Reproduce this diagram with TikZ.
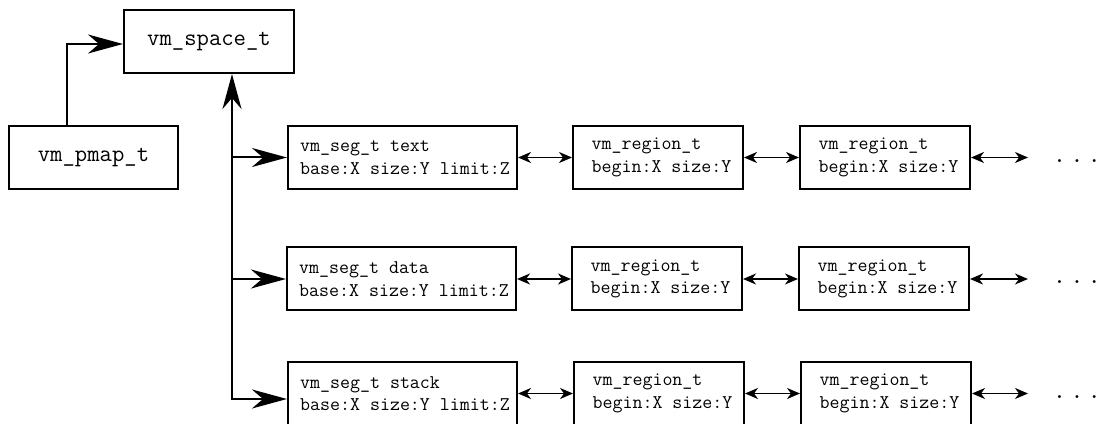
\documentclass[tikz,border=0pt]{standalone}
\usepackage{fontspec}
\usetikzlibrary{arrows.meta}
\newcommand{\ind}[1]{\hspace*{#1pt}}
\begin{document}
\begin{tikzpicture}[x=1pt,y=1pt,
  bigbox/.style={draw,line width=2pt,minimum width=170pt,minimum height=63pt,inner sep=0pt,font=\ttfamily\fontsize{24}{28}\selectfont},
  segbox/.style={draw,line width=2pt,minimum width=229pt,minimum height=63pt,inner sep=0pt,align=left,font=\ttfamily\fontsize{19.4}{22.5}\selectfont},
  regbox/.style={draw,line width=2pt,minimum width=170pt,minimum height=63pt,inner sep=0pt,align=left,font=\ttfamily\fontsize{19.4}{22.5}\selectfont},
  bigarrow/.style={line width=2pt,-{Stealth[length=35pt,width=19pt,inset=11pt]}},
  dblarrow/.style={line width=1.5pt,{Stealth[length=13pt,width=11pt,inset=4pt]}-{Stealth[length=13pt,width=11pt,inset=4pt]}},
  dots/.style={font=\ttfamily\fontsize{26}{28}\selectfont,inner sep=0pt}]
\useasboundingbox (0,0) rectangle (1100,423);
\node[bigbox] (space) at (209,381.5) {vm\_space\_t};
\node[bigbox,minimum width=169pt] (pmap) at (93.5,265.5) {vm\_pmap\_t};

\node[segbox] (seg1) at (402.5,265.5) {\ind{5}vm\_seg\_t text\\\ind{5}base:X size:Y limit:Z};
\node[segbox] (seg2) at (401.5,144) {\ind{5}vm\_seg\_t data\\\ind{5}base:X size:Y limit:Z};
\node[segbox] (seg3) at (402.5,29.5) {\ind{5}vm\_seg\_t stack\\\ind{5}base:X size:Y limit:Z};

\node[regbox] (r11) at (658,265.5) {\ind{7}vm\_region\_t\\\ind{7}begin:X size:Y};
\node[regbox] (r21) at (657,144) {\ind{7}vm\_region\_t\\\ind{7}begin:X size:Y};
\node[regbox] (r31) at (659,29.5) {\ind{7}vm\_region\_t\\\ind{7}begin:X size:Y};
\node[regbox] (r12) at (885,265.5) {\ind{7}vm\_region\_t\\\ind{7}begin:X size:Y};
\node[regbox] (r22) at (884,144) {\ind{7}vm\_region\_t\\\ind{7}begin:X size:Y};
\node[regbox] (r32) at (886,29.5) {\ind{7}vm\_region\_t\\\ind{7}begin:X size:Y};

\coordinate (e1) at (1028,265.5);
\coordinate (e2) at (1028,144);
\coordinate (e3) at (1028,29.5);
\node[dots,anchor=base] (d1) at (1077,260) {.\hspace{4pt}.\hspace{4pt}.};
\node[dots,anchor=base] (d2) at (1077,139) {.\hspace{4pt}.\hspace{4pt}.};
\node[dots,anchor=base] (d3) at (1077,25) {.\hspace{4pt}.\hspace{4pt}.};

% pmap -> space
\draw[bigarrow] (pmap.north -| 67,0) |- ([yshift=-2.5pt]space.west);
% spine
\coordinate (sp3) at (232,24);
\coordinate (sp2) at (232,144);
\coordinate (sp1) at (232,265.5);
\draw[bigarrow] (sp3) -- (sp3 |- space.south);
\draw[bigarrow] (sp1) -- (seg1.west);
\draw[bigarrow] (sp2) -- (seg2.west);
\draw[bigarrow] ([xshift=-1pt]sp3) -- (sp3 -| seg3.west);

% double arrows
\draw[dblarrow] (seg1.east) -- (r11.west);
\draw[dblarrow] (r11.east) -- (r12.west);
\draw[dblarrow] (r12.east) -- (e1);
\draw[dblarrow] (seg2.east) -- (r21.west);
\draw[dblarrow] (r21.east) -- (r22.west);
\draw[dblarrow] (r22.east) -- (e2);
\draw[dblarrow] (seg3.east) -- (r31.west);
\draw[dblarrow] (r31.east) -- (r32.west);
\draw[dblarrow] (r32.east) -- (e3);
\end{tikzpicture}
\end{document}
